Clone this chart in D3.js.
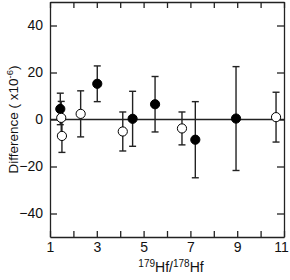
<!DOCTYPE html>
<html>
<head>
<meta charset="utf-8">
<script src="https://cdn.jsdelivr.net/npm/d3@7"></script>
<style>
  html, body { margin: 0; padding: 0; background: #fff; }
  svg text { font-family: "Liberation Sans", Arial, sans-serif; fill: #111; }
</style>
</head>
<body>
<div id="chart"></div>
<script>
// filled circles
const filledX = [1.44, 3.02, 4.53, 5.49, 7.21, 8.95];
const filledY = [4.5, 15.2, 0.3, 6.5, -8.6, 0.4];
const filledErr = [6.7, 7.6, 11.7, 11.8, 16.2, 22.1];

// open circles
const openX = [1.48, 1.51, 2.31, 4.11, 6.64, 10.66];
const openY = [0.7, -7.0, 2.4, -5.1, -3.8, 1.0];
const openErr = [7.0, 7.0, 9.8, 8.3, 7.0, 10.6];

const xTicks = [1, 2, 3, 4, 5, 6, 7, 8, 9, 10, 11];
const xLabels = [1, 3, 5, 7, 9, 11];
const yTicks = [-40, -20, 0, 20, 40];

const W = 290, H = 280;
const m = { left: 50, right: 6, top: 2, bottom: 43 };

const svg = d3.select('#chart').append('svg')
  .attr('width', W).attr('height', H);

const x = d3.scaleLinear().domain([1, 11]).range([m.left, W - m.right]);
const y = d3.scaleLinear().domain([-50, 50]).range([H - m.bottom, m.top]);

const ink = '#222';

// zero line
svg.append('line')
  .attr('x1', x(1)).attr('x2', x(11))
  .attr('y1', y(0)).attr('y2', y(0))
  .attr('stroke', ink).attr('stroke-width', 1.3);

// axes (ticks pointing inward)
const axBottom = svg.append('g').attr('transform', `translate(0,${y(-50)})`)
  .call(d3.axisBottom(x).tickValues(xTicks).tickSizeInner(-6).tickSizeOuter(0)
    .tickFormat(d => xLabels.includes(d) ? d : '').tickPadding(5));
const axTop = svg.append('g').attr('transform', `translate(0,${y(50)})`)
  .call(d3.axisTop(x).tickValues(xTicks).tickSizeInner(-6).tickSizeOuter(0).tickFormat(''));
const axLeft = svg.append('g').attr('transform', `translate(${x(1)},0)`)
  .call(d3.axisLeft(y).tickValues(yTicks).tickSizeInner(-7).tickSizeOuter(0).tickPadding(7));
const axRight = svg.append('g').attr('transform', `translate(${x(11)},0)`)
  .call(d3.axisRight(y).tickValues(yTicks).tickSizeInner(-7).tickSizeOuter(0).tickFormat(''));

[axBottom, axTop, axLeft, axRight].forEach(g => {
  g.select('.domain').attr('stroke', ink).attr('stroke-width', 1.3);
  g.selectAll('.tick line').attr('stroke', ink).attr('stroke-width', 1.3);
  g.selectAll('.tick text').attr('font-size', 14).attr('fill', '#111')
    .attr('font-family', '"Liberation Sans", Arial, sans-serif');
});
// keep the last label inside the frame
axBottom.selectAll('.tick text').filter(d => d === 11).attr('dx', -3);

// data
const pts = [];
filledX.forEach((v, i) => pts.push({ x: v, y: filledY[i], e: filledErr[i], filled: true }));
openX.forEach((v, i) => pts.push({ x: v, y: openY[i], e: openErr[i], filled: false }));

const cap = 3.5;
const bars = svg.append('g').selectAll('g').data(pts).enter().append('g')
  .attr('stroke', ink).attr('stroke-width', 1.4);
bars.append('line')
  .attr('x1', d => x(d.x)).attr('x2', d => x(d.x))
  .attr('y1', d => y(d.y + d.e)).attr('y2', d => y(d.y - d.e));
bars.append('line')
  .attr('x1', d => x(d.x) - cap).attr('x2', d => x(d.x) + cap)
  .attr('y1', d => y(d.y + d.e)).attr('y2', d => y(d.y + d.e));
bars.append('line')
  .attr('x1', d => x(d.x) - cap).attr('x2', d => x(d.x) + cap)
  .attr('y1', d => y(d.y - d.e)).attr('y2', d => y(d.y - d.e));

svg.append('g').selectAll('circle').data(pts).enter().append('circle')
  .attr('cx', d => x(d.x)).attr('cy', d => y(d.y))
  .attr('r', 4.6)
  .attr('fill', d => d.filled ? '#000' : '#fff')
  .attr('stroke', '#000').attr('stroke-width', 1);

// axis titles
const xt = svg.append('text')
  .attr('x', 171).attr('y', 272)
  .attr('text-anchor', 'middle').attr('font-size', 14);
xt.append('tspan').attr('font-size', 10).attr('dy', -5).text('179');
xt.append('tspan').attr('dy', 5).text('Hf/');
xt.append('tspan').attr('font-size', 10).attr('dy', -5).text('178');
xt.append('tspan').attr('dy', 5).text('Hf');

const yt = svg.append('text')
  .attr('transform', `translate(18,${y(0)}) rotate(-90)`)
  .attr('text-anchor', 'middle').attr('font-size', 13.5);
yt.append('tspan').text('Difference ( x10');
yt.append('tspan').attr('font-size', 9.5).attr('dy', -5).text('-6');
yt.append('tspan').attr('dy', 5).text(')');
</script>
</body>
</html>
